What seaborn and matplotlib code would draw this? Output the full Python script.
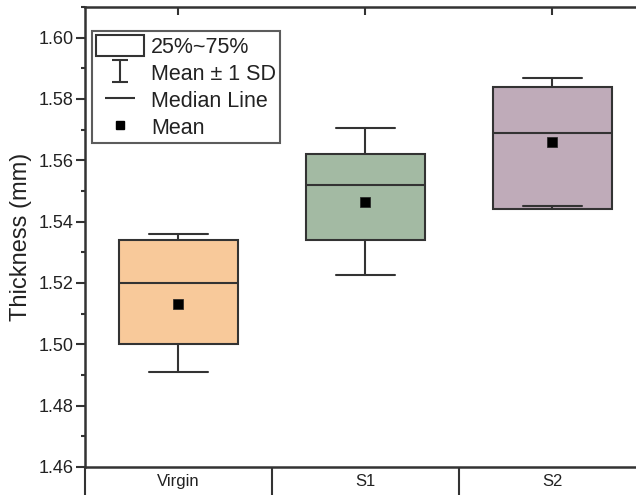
import numpy as np
import seaborn as sns
import matplotlib.pyplot as plt
from matplotlib.patches import Patch
from matplotlib.lines import Line2D
from matplotlib.path import Path
from matplotlib.ticker import AutoMinorLocator

# values
groups = ['Virgin', 'S1', 'S2']
q1 = [1.500, 1.534, 1.544]
q3 = [1.534, 1.562, 1.584]
medians = [1.520, 1.552, 1.569]
means = [1.5133, 1.5465, 1.566]
sd_low = [1.491, 1.5225, 1.545]
sd_high = [1.536, 1.5705, 1.587]
colors = ['#F8C99A', '#A3BAA3', '#BFABB9']

sns.set_style('ticks')
plt.rcParams['font.family'] = ['Liberation Sans', 'DejaVu Sans']
edge = '#333333'
txt = '#222222'

fig = plt.figure(figsize=(6.36, 4.95), dpi=100)
ax = fig.add_axes([85 / 636, 28 / 495, 561 / 636, 460 / 495])

pos = np.arange(len(groups))
stats = [dict(label=g, med=m, q1=a, q3=b, whislo=lo, whishi=hi, fliers=[])
         for g, m, a, b, lo, hi in zip(groups, medians, q1, q3, sd_low, sd_high)]
bp = ax.bxp(stats, positions=pos, widths=0.64, patch_artist=True, showfliers=False,
            boxprops=dict(linewidth=1.5, edgecolor=edge),
            medianprops=dict(color=edge, linewidth=1.5),
            whiskerprops=dict(color=edge, linewidth=1.5),
            capprops=dict(color=edge, linewidth=1.5))
for box, c in zip(bp['boxes'], colors):
    box.set_facecolor(c)

sns.scatterplot(x=pos, y=means, marker='s', color='black', s=45,
                edgecolor='#222222', linewidth=0.5, zorder=5, ax=ax)

ax.set_xlim(-0.5, 2.5)
ax.set_ylim(1.46, 1.61)
ax.set_yticks([1.46, 1.48, 1.50, 1.52, 1.54, 1.56, 1.58, 1.60])
ax.yaxis.set_minor_locator(AutoMinorLocator(2))
ax.tick_params(axis='y', which='major', direction='out', length=6.5, width=1.5,
               color=edge, labelsize=13, labelcolor=txt, pad=1.5)
ax.tick_params(axis='y', which='minor', direction='out', length=3, width=1.5, color=edge)

# bottom: category "table" with separators at the boundaries
ax.set_xticks([-0.5, 0.5, 1.5, 2.5])
ax.set_xticklabels([])
ax.set_xticks(pos, minor=True)
ax.set_xticklabels(groups, minor=True)
ax.tick_params(axis='x', which='major', direction='out', length=25, width=1.5, color=edge)
ax.tick_params(axis='x', which='minor', length=0, labelsize=12, labelcolor=txt, pad=5)

top = ax.secondary_xaxis('top')
top.set_xticks(pos)
top.set_xticklabels([])
top.tick_params(direction='in', length=5.5, width=1.5, color=edge)

for s in ax.spines.values():
    s.set_linewidth(1.8)
    s.set_color(edge)
top.spines['top'].set_visible(False)

ax.set_ylabel('Thickness (mm)', fontsize=17, color=txt)
ax.yaxis.set_label_coords(-0.095, 0.5)
ax.set_xlabel('')

# legend symbols
ibeam = Path([(-0.7, -1), (0.7, -1), (0, -1), (0, 1), (-0.7, 1), (0.7, 1)],
             [Path.MOVETO, Path.LINETO, Path.MOVETO, Path.LINETO, Path.MOVETO, Path.LINETO])
hbar = Path([(-1, 0), (1, 0)], [Path.MOVETO, Path.LINETO])
handles = [Patch(facecolor='white', edgecolor=edge, linewidth=1.5),
           Line2D([], [], marker=ibeam, linestyle='none', markersize=16.5,
                  markerfacecolor='none', markeredgecolor=edge, markeredgewidth=1.5),
           Line2D([], [], marker=hbar, linestyle='none', markersize=21.5,
                  markerfacecolor='none', markeredgecolor=edge, markeredgewidth=1.5),
           Line2D([], [], marker='s', color='black', linestyle='none', markersize=6)]
labels = ['25%~75%', 'Mean ± 1 SD', 'Median Line', 'Mean']
leg = ax.legend(handles, labels, loc='upper left', bbox_to_anchor=(0.0125, 0.948),
                borderaxespad=0, fontsize=15.5, frameon=True, fancybox=False,
                handlelength=2.23, handleheight=1.1, handletextpad=0.3,
                labelspacing=0.2, borderpad=0.2)
leg.get_frame().set_edgecolor(edge)
leg.get_frame().set_linewidth(1.5)
for t in leg.get_texts():
    t.set_color(txt)

fig.savefig('out.png', dpi=100)
